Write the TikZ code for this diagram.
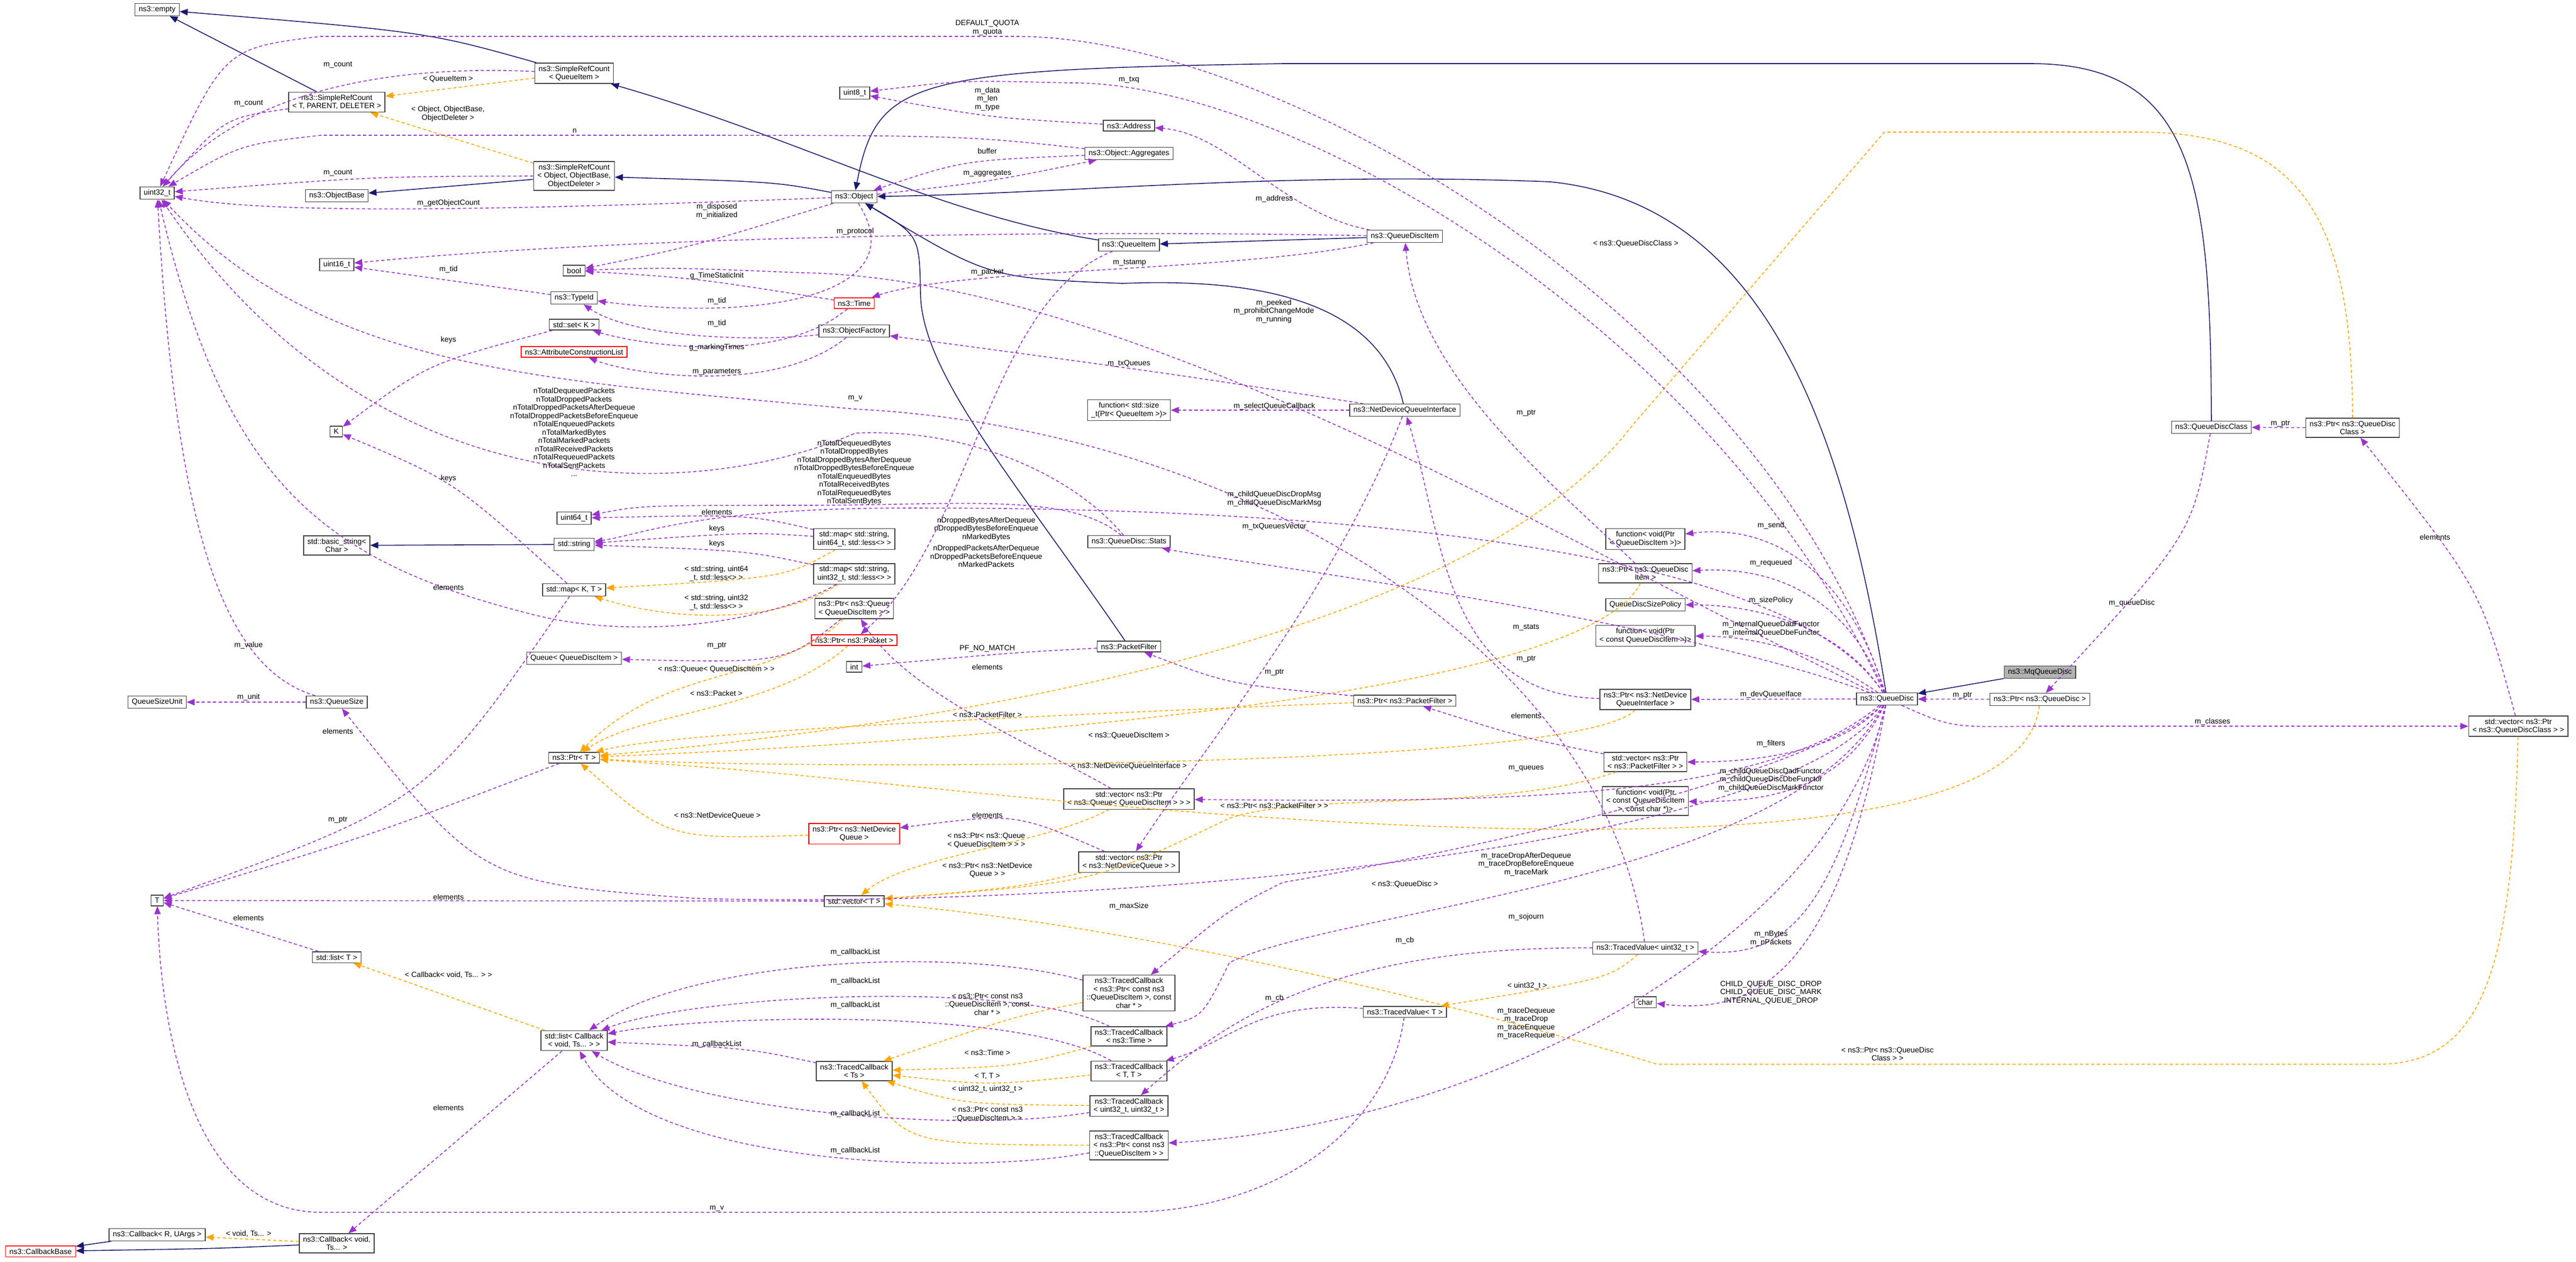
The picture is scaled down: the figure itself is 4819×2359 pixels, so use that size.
\documentclass[tikz,border=0pt]{standalone}
\usepackage{fontspec}
\setmainfont{Liberation Sans}
\usetikzlibrary{arrows.meta}
\definecolor{navyc}{HTML}{191970}
\definecolor{purpc}{HTML}{9A32CD}
\definecolor{orngc}{HTML}{FFA500}
\tikzset{
  box/.style={draw=black!75,line width=0.4pt,fill=white,rectangle,inner xsep=0.07cm,inner ysep=0.05cm,align=center,font=\fontsize{4}{4.4}\selectfont},
  redbox/.style={box,draw=red},
  lab/.style={inner sep=0pt,align=center,font=\fontsize{4}{4.4}\selectfont},
  tip/.style={-{Triangle[length=0.15cm,width=0.12cm]}},
  inh/.style={tip,draw=navyc,line width=0.45pt},
  use/.style={tip,draw=purpc,line width=0.45pt,dash pattern=on 0.06cm off 0.045cm},
  tpl/.style={tip,draw=orngc,line width=0.45pt,dash pattern=on 0.06cm off 0.045cm}
}
\begin{document}
\begin{tikzpicture}[x=0.01cm,y=-0.01cm]
\useasboundingbox (0,0) rectangle (4819,2359);
% ---------- nodes ----------
\node[box] (empty) at (294,18) {ns3::empty};
\node[box] (srcQI) at (1074,137) {ns3::SimpleRefCount\\< QueueItem >};
\node[box] (srcT) at (630,191) {ns3::SimpleRefCount\\< T, PARENT, DELETER >};
\node[box] (srcO) at (1074,329) {ns3::SimpleRefCount\\< Object, ObjectBase,\\ObjectDeleter >};
\node[box] (u32) at (294,361) {uint32\_t};
\node[box] (obase) at (630,366) {ns3::ObjectBase};
\node[box] (object) at (1598,368) {ns3::Object};
\node[box] (u16) at (630,495) {uint16\_t};
\node[box] (bool) at (1074,506) {bool};
\node[box] (typeid) at (1074,557) {ns3::TypeId};
\node[box] (setK) at (1074,607) {std::set< K >};
\node[redbox] (acl) at (1074,658) {ns3::AttributeConstructionList};
\node[box] (K) at (629,807) {K};
\node[box] (u64) at (1074,969) {uint64\_t};
\node[box] (str) at (1074,1018) {std::string};
\node[box] (bstr) at (630,1020) {std::basic\_string<\\Char >};
\node[box] (mapKT) at (1074,1103) {std::map< K, T >};
\node[box] (queueQDI) at (1074,1231) {Queue< QueueDiscItem >};
\node[box] (qsu) at (294,1313) {QueueSizeUnit};
\node[box] (qsize) at (630,1313) {ns3::QueueSize};
\node[box] (ptrT) at (1074,1417) {ns3::Ptr< T >};
\node[box] (T) at (294,1684) {T};
\node[box] (listT) at (630,1790) {std::list< T >};
\node[box] (listCB) at (1074,1946) {std::list< Callback\\< void, Ts... > >};
\node[box] (cbR) at (294,2309) {ns3::Callback< R, UArgs >};
\node[redbox] (cbBase) at (76,2340) {ns3::CallbackBase};
\node[box] (cbV) at (630,2325) {ns3::Callback< void,\\Ts... >};
\node[box] (u8) at (1599,174) {uint8\_t};
\node[box] (addr) at (2112,235) {ns3::Address};
\node[box] (aggr) at (2112,287) {ns3::Object::Aggregates};
\node[box] (qdi) at (2628,442) {ns3::QueueDiscItem};
\node[box] (qi) at (2112,458) {ns3::QueueItem};
\node[redbox] (time) at (1598,567) {ns3::Time};
\node[box] (ofac) at (1598,619) {ns3::ObjectFactory};
\node[box] (fnSize) at (2112,767) {function< std::size\\\_t(Ptr< QueueItem >)>};
\node[box] (ndqi) at (2628,767) {ns3::NetDeviceQueueInterface};
\node[box] (map64) at (1598,1008) {std::map< std::string,\\uint64\_t, std::less<> >};
\node[box] (map32) at (1598,1073) {std::map< std::string,\\uint32\_t, std::less<> >};
\node[box] (stats) at (2112,1013) {ns3::QueueDisc::Stats};
\node[box] (ptrQueue) at (1598,1138) {ns3::Ptr< ns3::Queue\\< QueueDiscItem > >};
\node[redbox] (ptrPacket) at (1598,1197) {ns3::Ptr< ns3::Packet >};
\node[box] (int) at (1598,1247) {int};
\node[box] (pf) at (2112,1209) {ns3::PacketFilter};
\node[box] (ptrPF) at (2628,1310) {ns3::Ptr< ns3::PacketFilter >};
\node[box] (vecQueue) at (2112,1494) {std::vector< ns3::Ptr\\< ns3::Queue< QueueDiscItem > > >};
\node[redbox] (ptrNDQ) at (1598,1559) {ns3::Ptr< ns3::NetDevice\\Queue >};
\node[box] (vecNDQ) at (2112,1612) {std::vector< ns3::Ptr\\< ns3::NetDeviceQueue > >};
\node[box] (vecT) at (1598,1685) {std::vector< T >};
\node[box] (tcPC) at (2112,1857) {ns3::TracedCallback\\< ns3::Ptr< const ns3\\::QueueDiscItem >, const\\char * >};
\node[box] (tcTime) at (2112,1938) {ns3::TracedCallback\\< ns3::Time >};
\node[box] (tcTT) at (2112,2003) {ns3::TracedCallback\\< T, T >};
\node[box] (tcUU) at (2112,2068) {ns3::TracedCallback\\< uint32\_t, uint32\_t >};
\node[box] (tcP) at (2112,2142) {ns3::TracedCallback\\< ns3::Ptr< const ns3\\::QueueDiscItem > >};
\node[box] (tcTs) at (1598,2003) {ns3::TracedCallback\\< Ts >};
\node[box] (tvT) at (2628,1892) {ns3::TracedValue< T >};
\node[box] (tvU) at (3078,1773) {ns3::TracedValue< uint32\_t >};
\node[box] (char) at (3078,1874) {char};
\node[box] (qdc) at (4137,799) {ns3::QueueDiscClass};
\node[box] (ptrQDC) at (4401,800) {ns3::Ptr< ns3::QueueDisc\\Class >};
\node[box] (fnSend) at (3078,1008) {function< void(Ptr\\< QueueDiscItem >)>};
\node[box] (ptrQDI) at (3078,1072) {ns3::Ptr< ns3::QueueDisc\\Item >};
\node[box] (qdsp) at (3078,1131) {QueueDiscSizePolicy};
\node[box] (fnConst) at (3078,1189) {function< void(Ptr\\< const QueueDiscItem >)>};
\node[box] (ptrNDQI) at (3078,1308) {ns3::Ptr< ns3::NetDevice\\QueueInterface >};
\node[box] (vecPF) at (3078,1425) {std::vector< ns3::Ptr\\< ns3::PacketFilter > >};
\node[box] (fnChar) at (3078,1498) {function< void(Ptr\\< const QueueDiscItem\\>, const char *)>};
\node[box] (qd) at (3530,1307) {ns3::QueueDisc};
\node[box,fill=black!30] (mq) at (3816,1257) {ns3::MqQueueDisc};
\node[box] (ptrQD) at (3816,1308) {ns3::Ptr< ns3::QueueDisc >};
\node[box] (vecQDC) at (4711,1358) {std::vector< ns3::Ptr\\< ns3::QueueDiscClass > >};
% ---------- inheritance ----------
\draw[inh] (srcQI) .. controls (800,60) .. (empty);
\draw[inh] (srcT) -- (empty);
\draw[inh] (srcO) -- (obase);
\draw[inh] (object) .. controls (1450,340) .. (srcO);
\draw[inh] (qi) .. controls (1750,400) and (1500,260) .. (srcQI);
\draw[inh] (qdi) -- (qi);
\draw[inh] (qd) .. controls (3450,800) and (3300,380) .. (2900,340) .. controls (2400,320) and (2000,362) .. (object);
\draw[inh] (qdc) .. controls (4135,350) and (4110,119) .. (3800,119) -- (2400,119) .. controls (1700,130) and (1640,150) .. (object);
\draw[inh] (ndqi) .. controls (2580,560) and (2350,520) .. (2100,530) .. controls (1850,520) .. (object);
\draw[inh] (pf) .. controls (1900,900) and (1725,700) .. (1722,550) .. controls (1720,440) .. (object);
\draw[inh] (mq) -- (qd);
\draw[inh] (str) -- (bstr);
\draw[inh] (cbR) -- (cbBase);
\draw[inh] (cbV) .. controls (400,2335) .. (cbBase);
% ---------- template ----------
\draw[tpl] (srcQI) -- (srcT);
\draw[tpl] (srcO) -- (srcT);
\draw[tpl] (map64) .. controls (1470,1080) .. (mapKT);
\draw[tpl] (map32) .. controls (1450,1170) and (1250,1160) .. (mapKT);
\draw[tpl] (ptrQueue) .. controls (1450,1280) and (1250,1240) .. (ptrT);
\draw[tpl] (ptrPacket) .. controls (1450,1330) and (1200,1330) .. (ptrT);
\draw[tpl] (ptrPF) .. controls (1900,1340) and (1250,1370) .. (ptrT);
\draw[tpl] (ptrQDI) .. controls (2950,1330) and (1500,1400) .. (ptrT);
\draw[tpl] (ptrNDQI) .. controls (2950,1440) and (1500,1440) .. (ptrT);
\draw[tpl] (ptrNDQ) .. controls (1250,1570) .. (ptrT);
\draw[tpl] (ptrQDC) .. controls (4400,400) and (4300,247) .. (4000,247) -- (3525,247) -- (3050,800) .. controls (2700,1250) and (1500,1380) .. (ptrT);
\draw[tpl] (ptrQD) .. controls (3780,1650) and (2500,1550) .. (1800,1480) .. controls (1400,1440) .. (ptrT);
\draw[tpl] (vecQueue) .. controls (1950,1580) and (1700,1600) .. (vecT);
\draw[tpl] (vecNDQ) .. controls (1900,1660) .. (vecT);
\draw[tpl] (vecPF) .. controls (2800,1520) and (2450,1480) .. (2300,1530) .. controls (2050,1650) .. (vecT);
\draw[tpl] (vecQDC) .. controls (4700,1800) and (4650,1990) .. (4450,1990) -- (3100,1990) .. controls (2800,1900) and (2200,1740) .. (vecT);
\draw[tpl] (listCB) -- (listT);
\draw[tpl] (cbV) -- (cbR);
\draw[tpl] (tcPC) .. controls (1900,1900) .. (tcTs);
\draw[tpl] (tcTime) .. controls (1900,1995) .. (tcTs);
\draw[tpl] (tcTT) .. controls (1850,2030) .. (tcTs);
\draw[tpl] (tcUU) .. controls (1800,2065) .. (tcTs);
\draw[tpl] (tcP) .. controls (1700,2140) .. (tcTs);
\draw[tpl] (tvU) .. controls (3010,1830) .. (tvT);
% ---------- usage ----------
\draw[use] (srcQI) .. controls (700,120) and (450,180) .. (u32);
\draw[use] (srcT) .. controls (420,220) .. (u32);
\draw[use] (srcO) .. controls (700,330) .. (u32);
\draw[use] (object) .. controls (900,395) and (500,400) .. (u32);
\draw[use] (qd) .. controls (3300,600) and (2400,68) .. (1900,68) -- (600,68) .. controls (420,90) .. (u32);
\draw[use] (aggr) .. controls (1800,253) .. (1200,253) -- (600,253) .. controls (450,270) .. (u32);
\draw[use] (object) .. controls (1300,460) .. (bool);
\draw[use] (qdi) .. controls (2000,430) and (1200,440) .. (u16);
\draw[use] (time) .. controls (1300,520) .. (bool);
\draw[use] (qd) .. controls (2900,1000) and (2100,520) .. (1500,510) .. controls (1250,500) .. (bool);
\draw[use] (typeid) -- (u16);
\draw[use] (object) .. controls (1720,560) and (1400,600) .. (typeid);
\draw[use] (ofac) .. controls (1400,640) and (1180,630) .. (typeid);
\draw[use] (time) .. controls (1450,690) and (1180,640) .. (setK);
\draw[use] (ofac) .. controls (1450,740) and (1180,700) .. (acl);
\draw[use] (setK) .. controls (800,680) .. (K);
\draw[use] (stats) .. controls (2000,880) and (1800,800) .. (1600,810) .. controls (1300,940) and (700,960) .. (u32);
\draw[use] (stats) .. controls (2000,920) and (1800,945) .. (1500,945) .. controls (1200,945) .. (u64);
\draw[use] (map64) .. controls (1400,962) .. (u64);
\draw[use] (map64) .. controls (1400,995) .. (str);
\draw[use] (map32) .. controls (1400,1030) .. (str);
\draw[use] (map32) .. controls (1450,1160) and (1200,1200) .. (1000,1150) .. controls (600,1050) and (420,900) .. (u32);
\draw[use] (qsize) .. controls (420,1250) and (330,1000) .. (u32);
\draw[use] (tvU) .. controls (3000,1200) and (2300,800) .. (1600,765) .. controls (1000,710) and (600,690) .. (u32);
\draw[use] (mapKT) .. controls (850,900) .. (K);
\draw[use] (mapKT) .. controls (800,1500) .. (T);
\draw[use] (qsize) -- (qsu);
\draw[use] (ptrQueue) .. controls (1470,1240) .. (queueQDI);
\draw[use] (ptrT) .. controls (700,1560) .. (T);
\draw[use] (vecT) -- (T);
\draw[use] (listT) -- (T);
\draw[use] (tvT) .. controls (2600,2100) and (2400,2267) .. (2100,2267) -- (600,2267) .. controls (350,2267) and (300,1900) .. (T);
\draw[use] (listCB) -- (cbV);
\draw[use] (tcTs) .. controls (1400,1960) .. (listCB);
\draw[use] (tcPC) .. controls (1800,1770) and (1300,1790) .. (listCB);
\draw[use] (tcTime) .. controls (1900,1830) and (1300,1860) .. (listCB);
\draw[use] (tcTT) .. controls (1900,1880) and (1300,1900) .. (listCB);
\draw[use] (tcUU) .. controls (1800,2120) and (1300,2080) .. (listCB);
\draw[use] (tcP) .. controls (1800,2200) and (1200,2180) .. (listCB);
\draw[use] (addr) .. controls (1850,220) .. (u8);
\draw[use] (qd) .. controls (3200,600) and (2400,150) .. (2000,155) .. controls (1800,150) .. (u8);
\draw[use] (qdi) .. controls (2400,400) and (2300,250) .. (addr);
\draw[use] (object) .. controls (1850,340) .. (aggr);
\draw[use] (aggr) .. controls (1800,300) .. (object);
\draw[use] (qdi) .. controls (2300,510) and (1800,500) .. (time);
\draw[use] (qi) .. controls (1850,560) and (1820,1000) .. (ptrPacket);
\draw[use] (ndqi) .. controls (2200,700) .. (ofac);
\draw[use] (ndqi) -- (fnSize);
\draw[use] (ptrQDI) .. controls (2900,900) and (2650,700) .. (qdi);
\draw[use] (qd) .. controls (3100,1150) and (2300,1050) .. (stats);
\draw[use] (ptrNDQI) .. controls (2700,1300) and (2700,1000) .. (ndqi);
\draw[use] (ptrPF) .. controls (2300,1280) .. (pf);
\draw[use] (pf) .. controls (1900,1220) .. (int);
\draw[use] (vecQueue) .. controls (1950,1400) and (1700,1300) .. (ptrQueue);
\draw[use] (vecPF) .. controls (2850,1380) .. (ptrPF);
\draw[use] (qd) .. controls (3300,1500) and (2800,1500) .. (vecQueue);
\draw[use] (vecNDQ) .. controls (1900,1520) .. (ptrNDQ);
\draw[use] (ndqi) .. controls (2500,1100) and (2250,1400) .. (vecNDQ);
\draw[use] (qd) .. controls (3300,950) and (2000,950) .. (1700,950) .. controls (1300,950) and (1200,1000) .. (str);
\draw[use] (qd) .. controls (3450,1050) and (3300,980) .. (fnSend);
\draw[use] (qd) .. controls (3450,1100) and (3300,1060) .. (ptrQDI);
\draw[use] (qd) .. controls (3450,1180) and (3300,1131) .. (qdsp);
\draw[use] (qd) .. controls (3420,1230) and (3300,1190) .. (fnConst);
\draw[use] (qd) -- (ptrNDQI);
\draw[use] (qd) .. controls (3450,1400) and (3300,1425) .. (vecPF);
\draw[use] (qd) .. controls (3450,1480) and (3300,1500) .. (fnChar);
\draw[use] (ptrQD) -- (qd);
\draw[use] (qd) .. controls (3650,1360) .. (3800,1358) -- (vecQDC);
\draw[use] (qdc) .. controls (4100,1000) .. (ptrQD);
\draw[use] (vecQDC) .. controls (4640,1100) .. (ptrQDC);
\draw[use] (ptrQDC) -- (qdc);
\draw[use] (qd) .. controls (3430,1700) and (3350,1790) .. (tvU);
\draw[use] (qd) .. controls (3440,1800) and (3300,1900) .. (char);
\draw[use] (qd) .. controls (3400,1450) and (2700,1600) .. (2400,1650) .. controls (2300,1700) .. (tcPC);
\draw[use] (qd) .. controls (3350,1600) and (2000,1700) .. (1300,1680) .. controls (900,1650) .. (qsize);
\draw[use] (qd) .. controls (3350,1650) and (2500,1700) .. (2300,1800) .. controls (2250,1900) .. (tcTime);
\draw[use] (tvU) .. controls (2500,1770) and (2300,1900) .. (tcUU);
\draw[use] (tvT) .. controls (2350,1870) and (2300,1950) .. (tcTT);
\draw[use] (qd) .. controls (3430,1750) and (2800,2100) .. (tcP);
% ---------- labels ----------
\node[lab] (l1) at (632,121) {m\_count};
\node[lab] (l2) at (465,193) {m\_count};
\node[lab] (l3) at (632,323) {m\_count};
\node[lab] (l4) at (839,380) {m\_getObjectCount};
\node[lab] (l5) at (1847,52) {DEFAULT\_QUOTA\\m\_quota};
\node[lab] (l6) at (1075,245) {n};
\node[lab] (l7) at (838,148) {< QueueItem >};
\node[lab] (l8) at (838,213) {< Object, ObjectBase,\\ObjectDeleter >};
\node[lab] (l9) at (1341,395) {m\_disposed\\m\_initialized};
\node[lab] (l10) at (1600,433) {m\_protocol};
\node[lab] (l11) at (1341,516) {g\_TimeStaticInit};
\node[lab] (l12) at (2383,582) {m\_peeked\\m\_prohibitChangeMode\\m\_running};
\node[lab] (l13) at (839,504) {m\_tid};
\node[lab] (l14) at (1341,563) {m\_tid};
\node[lab] (l15) at (1341,605) {m\_tid};
\node[lab] (l16) at (1341,650) {g\_markingTimes};
\node[lab] (l17) at (1341,695) {m\_parameters};
\node[lab] (l18) at (839,636) {keys};
\node[lab] (l19) at (1074,808) {nTotalDequeuedPackets\\nTotalDroppedPackets\\nTotalDroppedPacketsAfterDequeue\\nTotalDroppedPacketsBeforeEnqueue\\nTotalEnqueuedPackets\\nTotalMarkedBytes\\nTotalMarkedPackets\\nTotalReceivedPackets\\nTotalRequeuedPackets\\nTotalSentPackets\\...};
\node[lab] (l20) at (1598,884) {nTotalDequeuedBytes\\nTotalDroppedBytes\\nTotalDroppedBytesAfterDequeue\\nTotalDroppedBytesBeforeEnqueue\\nTotalEnqueuedBytes\\nTotalReceivedBytes\\nTotalRequeuedBytes\\nTotalSentBytes};
\node[lab] (l21) at (1341,957) {elements};
\node[lab] (l22) at (1341,989) {keys};
\node[lab] (l23) at (1341,1017) {keys};
\node[lab] (l24) at (839,1098) {elements};
\node[lab] (l25) at (465,1207) {m\_value};
\node[lab] (l26) at (839,895) {keys};
\node[lab] (l27) at (632,1367) {elements};
\node[lab] (l28) at (465,1304) {m\_unit};
\node[lab] (l29) at (1341,1207) {m\_ptr};
\node[lab] (l30) at (632,1533) {m\_ptr};
\node[lab] (l31) at (839,1677) {elements};
\node[lab] (l32) at (465,1716) {elements};
\node[lab] (l33) at (1341,2260) {m\_v};
\node[lab] (l34) at (839,2071) {elements};
\node[lab] (l35) at (1341,1953) {m\_callbackList};
\node[lab] (l36) at (1600,1781) {m\_callbackList};
\node[lab] (l37) at (1600,1835) {m\_callbackList};
\node[lab] (l38) at (1600,1880) {m\_callbackList};
\node[lab] (l39) at (1600,2083) {m\_callbackList};
\node[lab] (l40) at (1600,2152) {m\_callbackList};
\node[lab] (l41) at (1847,185) {m\_data\\m\_len\\m\_type};
\node[lab] (l42) at (2112,149) {m\_txq};
\node[lab] (l43) at (2384,372) {m\_address};
\node[lab] (l44) at (1847,324) {m\_aggregates};
\node[lab] (l45) at (1847,282) {buffer};
\node[lab] (l46) at (2113,491) {m\_tstamp};
\node[lab] (l47) at (1847,509) {m\_packet};
\node[lab] (l48) at (2112,680) {m\_txQueues};
\node[lab] (l49) at (2384,760) {m\_selectQueueCallback};
\node[lab] (l50) at (2855,772) {m\_ptr};
\node[lab] (l51) at (2855,1173) {m\_stats};
\node[lab] (l52) at (2855,1232) {m\_ptr};
\node[lab] (l53) at (2384,1257) {m\_ptr};
\node[lab] (l54) at (1847,1213) {PF\_NO\_MATCH};
\node[lab] (l55) at (1847,1247) {elements};
\node[lab] (l56) at (2855,1338) {elements};
\node[lab] (l57) at (2855,1437) {m\_queues};
\node[lab] (l58) at (1847,1524) {elements};
\node[lab] (l59) at (2384,985) {m\_txQueuesVector};
\node[lab] (l60) at (2384,933) {m\_childQueueDiscDropMsg\\m\_childQueueDiscMarkMsg};
\node[lab] (l61) at (3313,983) {m\_send};
\node[lab] (l62) at (3313,1053) {m\_requeued};
\node[lab] (l63) at (3313,1123) {m\_sizePolicy};
\node[lab] (l64) at (3313,1176) {m\_internalQueueDadFunctor\\m\_internalQueueDbeFunctor};
\node[lab] (l65) at (3313,1299) {m\_devQueueIface};
\node[lab] (l66) at (3313,1391) {m\_filters};
\node[lab] (l67) at (3313,1458) {m\_childQueueDiscDadFunctor\\m\_childQueueDiscDbeFunctor\\m\_childQueueDiscMarkFunctor};
\node[lab] (l68) at (3671,1300) {m\_ptr};
\node[lab] (l69) at (4139,1350) {m\_classes};
\node[lab] (l70) at (3988,1128) {m\_queueDisc};
\node[lab] (l71) at (4555,1004) {elements};
\node[lab] (l72) at (4266,792) {m\_ptr};
\node[lab] (l73) at (3313,1755) {m\_nBytes\\m\_nPackets};
\node[lab] (l74) at (3313,1856) {CHILD\_QUEUE\_DISC\_DROP\\CHILD\_QUEUE\_DISC\_MARK\\INTERNAL\_QUEUE\_DROP};
\node[lab] (l75) at (2855,1616) {m\_traceDropAfterDequeue\\m\_traceDropBeforeEnqueue\\m\_traceMark};
\node[lab] (l76) at (2112,1695) {m\_maxSize};
\node[lab] (l77) at (2855,1715) {m\_sojourn};
\node[lab] (l78) at (2628,1759) {m\_cb};
\node[lab] (l79) at (2384,1867) {m\_cb};
\node[lab] (l80) at (2855,1914) {m\_traceDequeue\\m\_traceDrop\\m\_traceEnqueue\\m\_traceRequeue};
\node[lab] (l81) at (1845,989) {nDroppedBytesAfterDequeue\\nDroppedBytesBeforeEnqueue\\nMarkedBytes};
\node[lab] (l82) at (1845,1040) {nDroppedPacketsAfterDequeue\\nDroppedPacketsBeforeEnqueue\\nMarkedPackets};
\node[lab] (l83) at (1600,745) {m\_v};
\node[lab] (l84) at (1340,1073) {< std::string, uint64\\\_t, std::less<> >};
\node[lab] (l85) at (1340,1127) {< std::string, uint32\\\_t, std::less<> >};
\node[lab] (l86) at (1340,1252) {< ns3::Queue< QueueDiscItem > >};
\node[lab] (l87) at (1340,1296) {< ns3::Packet >};
\node[lab] (l88) at (1847,1336) {< ns3::PacketFilter >};
\node[lab] (l89) at (2112,1376) {< ns3::QueueDiscItem >};
\node[lab] (l90) at (2112,1433) {< ns3::NetDeviceQueueInterface >};
\node[lab] (l91) at (1342,1526) {< ns3::NetDeviceQueue >};
\node[lab] (l92) at (3060,456) {< ns3::QueueDiscClass >};
\node[lab] (l93) at (2628,1654) {< ns3::QueueDisc >};
\node[lab] (l94) at (1845,1572) {< ns3::Ptr< ns3::Queue\\< QueueDiscItem > > >};
\node[lab] (l95) at (1847,1627) {< ns3::Ptr< ns3::NetDevice\\Queue > >};
\node[lab] (l96) at (2384,1506) {< ns3::Ptr< ns3::PacketFilter > >};
\node[lab] (l97) at (3531,1971) {< ns3::Ptr< ns3::QueueDisc\\Class > >};
\node[lab] (l98) at (839,1823) {< Callback< void, Ts... > >};
\node[lab] (l99) at (465,2307) {< void, Ts... >};
\node[lab] (l100) at (1847,1878) {< ns3::Ptr< const ns3\\::QueueDiscItem >, const\\char * >};
\node[lab] (l101) at (1847,1968) {< ns3::Time >};
\node[lab] (l102) at (1847,2013) {< T, T >};
\node[lab] (l103) at (1847,2037) {< uint32\_t, uint32\_t >};
\node[lab] (l104) at (1847,2084) {< ns3::Ptr< const ns3\\::QueueDiscItem > >};
\node[lab] (l105) at (2857,1844) {< uint32\_t >};
\end{tikzpicture}
\end{document}
